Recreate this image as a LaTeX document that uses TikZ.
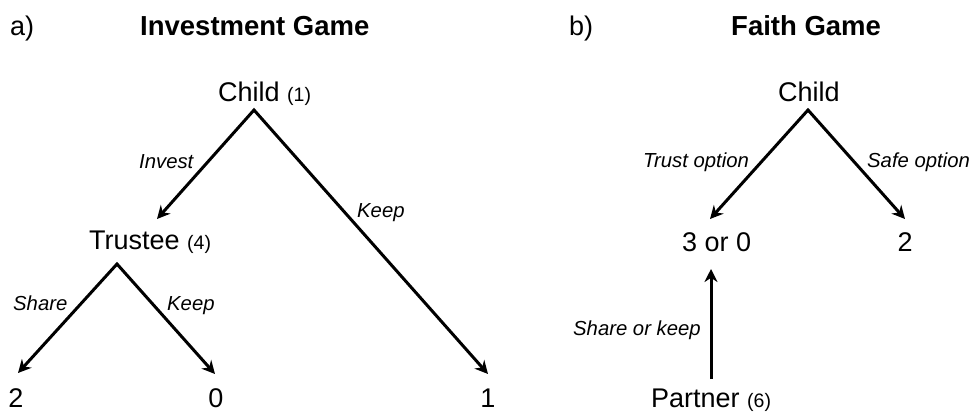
\documentclass[tikz,border=0pt]{standalone}
\usepackage{fontspec}
\setmainfont{Liberation Sans}
\usetikzlibrary{arrows.meta}
\tikzset{
  txt/.style={inner sep=0pt, anchor=base west},
  big/.style={txt, font=\fontsize{27}{30}\selectfont},
  ttl/.style={txt, font=\fontsize{27.5}{30}\selectfont\bfseries},
  lbl/.style={txt, font=\fontsize{20.3}{24}\selectfont\itshape},
  num/.style={inner sep=0pt, anchor=base, font=\fontsize{27}{30}\selectfont},
  branch/.style={line width=3pt, line join=miter, {Stealth[length=13pt,width=13pt]}-{Stealth[length=13pt,width=13pt]}},
  arr/.style={line width=3pt, -{Stealth[length=13pt,width=13pt]}},
}
\newcommand{\smallnum}[1]{{\fontsize{19.5}{22}\selectfont #1}}
\begin{document}
\begin{tikzpicture}[x=1pt,y=-1pt]
\useasboundingbox (0,0) rectangle (972,412);
% panel a
\node[big] (la) at (10,36) {a)};
\node[ttl] (ta) at (140,36) {Investment Game};
\node[big] (childA) at (218,102) {Child \smallnum{(1)}};
\node[lbl] (invest) at (139,168) {Invest};
\node[lbl] (keepA) at (357,217) {Keep};
\node[big] (trustee) at (89,249) {Trustee \smallnum{(4)}};
\node[lbl] (share) at (13,310) {Share};
\node[lbl] (keepT) at (167,310) {Keep};
\node[num] (two) at (16,407) {2};
\node[num] (zero) at (216,407) {0};
\node[num] (one) at (488,407) {1};
\coordinate (apexA) at (254,110);
\coordinate (tipInv) at (157,219);
\coordinate (tipKeepA) at (488,374);
\coordinate (apexT) at (117,264);
\coordinate (tipShare) at (18,373);
\coordinate (tipKeepT) at (215,374);
\draw[branch] (tipInv) -- (apexA) -- (tipKeepA);
\draw[branch] (tipShare) -- (apexT) -- (tipKeepT);
% panel b
\node[big] (lb) at (569,36) {b)};
\node[ttl] (tb) at (731,36) {Faith Game};
\node[big] (childB) at (778,102) {Child};
\node[lbl] (trustopt) at (643,167) {Trust option};
\node[lbl] (safeopt) at (867,167) {Safe option};
\node[big] (threeor) at (682,251) {3 or 0};
\node[num] (twoB) at (905,251) {2};
\node[lbl] (shorkeep) at (573,335) {Share or keep};
\node[big] (partner) at (651,407) {Partner \smallnum{(6)}};
\coordinate (apexB) at (808,110);
\coordinate (tipTrust) at (710,219);
\coordinate (tipSafe) at (905,219);
\coordinate (partnerTop) at (711,379);
\coordinate (tipPartner) at (711,269);
\draw[branch] (tipTrust) -- (apexB) -- (tipSafe);
\draw[arr] (partnerTop) -- (tipPartner);
\end{tikzpicture}
\end{document}
